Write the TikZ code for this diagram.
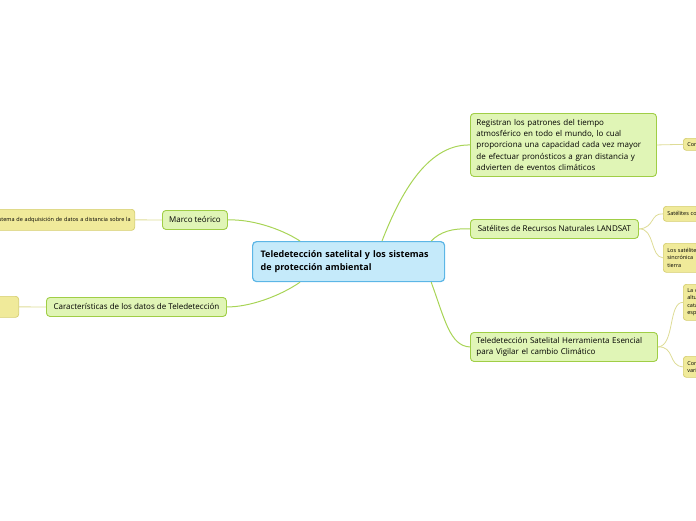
\documentclass[tikz,border=0pt]{standalone}
\usepackage{fontspec}
\setmainfont{Open Sans}
\usepackage{tikz}

\definecolor{rootfill}{RGB}{197,234,250}
\definecolor{rootline}{RGB}{92,182,230}
\definecolor{topicfill}{RGB}{224,245,182}
\definecolor{topicline}{RGB}{160,206,70}
\definecolor{subfill}{RGB}{240,234,154}
\definecolor{subline}{RGB}{214,206,112}
\definecolor{linkgreen}{RGB}{168,212,86}
\definecolor{linkyellow}{RGB}{222,220,150}

\begin{document}
\begin{tikzpicture}[x=1pt, y=-1pt,
        root/.style={draw=rootline, fill=rootfill, line width=1.2pt, rounded corners=4pt,
            anchor=north west, inner xsep=8pt, inner ysep=0pt, align=left,
            font=\fontsize{9}{13}\selectfont\bfseries},
        topic/.style={draw=topicline, fill=topicfill, line width=0.9pt, rounded corners=3.5pt,
            anchor=north west, inner xsep=6pt, inner ysep=0pt, align=left,
            font=\fontsize{8}{11.3}\selectfont},
        sub/.style={draw=subline, fill=subfill, line width=0.7pt, rounded corners=3pt,
            inner xsep=4pt, inner ysep=0pt, align=left,
            font=\fontsize{5.5}{7.5}\selectfont},
        branch/.style={draw=linkgreen, line width=1pt},
        twig/.style={draw=linkyellow, line width=0.8pt}]
        \useasboundingbox (0,0) rectangle (696,520);
        \clip (0,0) rectangle (696,520);

            \node[root, text width=176pt, minimum height=40pt] (root) at (252,241)
                {Teledetección satelital y los sistemas\\de protección ambiental};

            \node[topic, text width=174pt, minimum height=63pt] (reg) at (470,113)
                {Registran los patrones del tiempo\\atmosférico en todo el mundo, lo cual\\proporciona una capacidad cada vez mayor\\de efectuar pronósticos a gran distancia y\\advierten de eventos climáticos};
            \node[topic, minimum width=168pt, minimum height=19pt] (land) at (470,219)
                {Satélites de Recursos Naturales LANDSAT};
            \node[topic, text width=175pt, minimum height=29pt] (vig) at (470,332)
                {Teledetección Satelital Herramienta Esencial\\para Vigilar el cambio Climático};
            \node[topic, minimum width=65pt, minimum height=19pt] (marco) at (162,210)
                {Marco teórico};
            \node[topic, minimum width=180pt, minimum height=19pt] (carac) at (46,297)
                {Características de los datos de Teledetección};

            \node[sub, anchor=north east, text width=160pt, minimum height=21pt, align=right] (marcoA) at (135,209)
                {Sistema de adquisición de datos a distancia sobre la};
            \node[sub, anchor=north east, text width=60pt, minimum height=21pt] (caracA) at (19,296) {};
            \node[sub, anchor=north west, text width=40pt, minimum height=12pt] (regA) at (683,138) {Con};
            \node[sub, anchor=north west, text width=40pt, minimum height=15pt] (landA) at (663,206) {Satélites co};
            \node[sub, anchor=north west, text width=40pt, minimum height=29pt] (landB) at (663,243)
                {Los satélite\\sincrónica\\tierra};
            \node[sub, anchor=north west, text width=40pt, minimum height=36pt] (vigA) at (683,284)
                {La c\\altu\\catá\\esp};
            \node[sub, anchor=north west, text width=40pt, minimum height=21pt] (vigB) at (683,356)
                {Con\\vari};

            \draw[branch] (root.north west) ++(130,0) coordinate (r1)
                (r1) .. controls (398,200) and (425,144) .. (reg.west);
            \draw[branch] (root.north east) ++(-14,0) coordinate (r2)
                (r2) .. controls (440,232) and (452,228) .. (land.west);
            \draw[branch] (root.south east) ++(-14,0) coordinate (r3)
                (r3) .. controls (445,320) and (450,346) .. (vig.west);
            \draw[branch] (root.north west) ++(48,0) coordinate (r4)
                (r4) .. controls (280,228) and (250,219) .. (marco.east);
            \draw[branch] (root.south west) ++(48,0) coordinate (r5)
                (r5) .. controls (280,296) and (250,307) .. (carac.east);

            \draw[twig] (marco.west) -- (marcoA.east);
            \draw[twig] (carac.west) -- (caracA.east);
            \draw[twig] (reg.east) -- (regA.west);
            \draw[twig] (land.east) .. controls (655,228) and (650,213) .. (landA.west);
            \draw[twig] (land.east) .. controls (655,228) and (650,257) .. (landB.west);
            \draw[twig] (vig.east) .. controls (675,346) and (668,302) .. (vigA.west);
            \draw[twig] (vig.east) .. controls (675,346) and (668,366) .. (vigB.west);
\end{tikzpicture}
\end{document}
